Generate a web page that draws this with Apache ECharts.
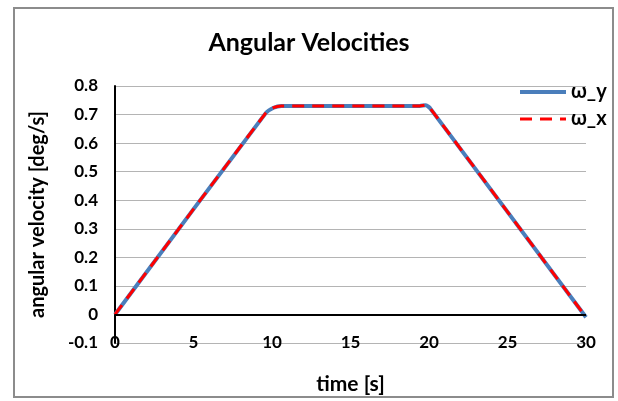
<!DOCTYPE html>
<html>
<head>
<meta charset="utf-8">
<script src="https://cdn.jsdelivr.net/npm/echarts@6/dist/echarts.min.js"></script>
<style>
  html, body { margin: 0; padding: 0; background: #fff; }
  #chart { width: 618px; height: 401px; }
</style>
</head>
<body>
<div id="chart"></div>
<script>
// time samples [s] and angular velocities [deg/s]
const timePts = [0, 9.6, 10.1, 10.6, 19.4, 19.8, 20.1, 30]
const omegaY = [0, 0.705, 0.724, 0.73, 0.73, 0.733, 0.72, -0.01]
const omegaX = [0, 0.705, 0.724, 0.73, 0.73, 0.733, 0.72, -0.01]

const xTicks = { min: 0, max: 30, interval: 5 }
const yTicks = { min: -0.1, max: 0.8, interval: 0.1 }

const font = 'Lato, "Liberation Sans", sans-serif'

const pairs = (xs, ys) => xs.map((x, i) => [x, ys[i]])

const chart = echarts.init(document.getElementById('chart'))

chart.setOption({
  backgroundColor: '#fff',
  animation: false,
  title: {
    text: 'Angular Velocities',
    left: 'center',
    top: 25,
    textStyle: { fontFamily: font, fontSize: 25, fontWeight: 'bold', color: '#000' },
  },
  legend: {
    orient: 'vertical',
    left: 513,
    top: 77,
    itemWidth: 46,
    itemHeight: 14,
    itemGap: 7,
    data: [
      { name: 'ω_y', lineStyle: { width: 4 } },
      { name: 'ω_x', lineStyle: { width: 3 } },
    ],
    itemStyle: { opacity: 0 },
    textStyle: { fontFamily: font, fontSize: 20, fontWeight: 'bold', color: '#000' },
  },
  grid: { left: 115, right: 32, top: 86, bottom: 58 },
  xAxis: {
    type: 'value',
    min: xTicks.min,
    max: xTicks.max,
    interval: xTicks.interval,
    name: 'time [s]',
    nameLocation: 'middle',
    nameGap: 31,
    nameTextStyle: { fontFamily: font, fontSize: 21, fontWeight: 'bold', color: '#000' },
    axisLine: { show: false },
    axisTick: { show: false },
    splitLine: { show: false },
    axisLabel: {
      margin: 0,
      verticalAlign: 'middle',
      fontFamily: font,
      fontSize: 17,
      fontWeight: 'bold',
      color: '#000',
    },
  },
  yAxis: {
    type: 'value',
    min: yTicks.min,
    max: yTicks.max,
    interval: yTicks.interval,
    name: 'angular velocity [deg/s]',
    nameLocation: 'middle',
    nameGap: 67,
    nameTextStyle: { fontFamily: font, fontSize: 20, fontWeight: 'bold', color: '#000' },
    axisLine: { show: true, onZero: false, lineStyle: { color: '#000', width: 2 } },
    axisTick: { show: false },
    splitLine: { show: true, lineStyle: { color: '#b4b4b4', width: 1 } },
    axisLabel: {
      margin: 17,
      fontFamily: font,
      fontSize: 17,
      fontWeight: 'bold',
      color: '#000',
      formatter: v => (Math.abs(v) < 1e-9 ? '0' : v.toFixed(1)),
    },
  },
  graphic: [
    {
      type: 'rect',
      shape: { x: 14, y: 8, width: 599, height: 389 },
      style: { fill: 'none', stroke: '#8c8c8c', lineWidth: 2 },
      silent: true,
      z: 100,
    },
  ],
  series: [
    {
      name: 'ω_y',
      type: 'line',
      data: pairs(timePts, omegaY),
      symbol: 'none',
      smooth: 0.2,
      lineStyle: { color: '#4a7ebb', width: 4 },
      itemStyle: { color: '#4a7ebb' },
      z: 3,
      markLine: {
        silent: true,
        symbol: 'none',
        label: { show: false },
        lineStyle: { color: '#000', width: 2, type: 'solid' },
        data: [{ yAxis: 0 }],
      },
    },
    {
      name: 'ω_x',
      type: 'line',
      data: pairs(timePts, omegaX),
      symbol: 'none',
      smooth: 0.2,
      lineStyle: { color: '#ff0000', width: 3, type: [12, 8] },
      itemStyle: { color: '#ff0000' },
      z: 4,
    },
  ],
})
</script>
</body>
</html>
